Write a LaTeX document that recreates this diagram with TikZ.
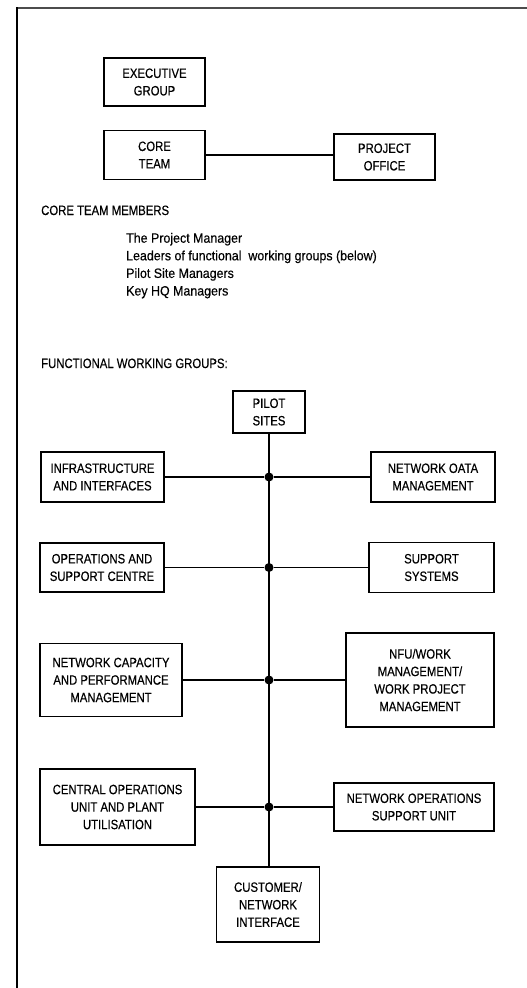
\documentclass[tikz,border=0pt]{standalone}
\usepackage{fontspec}
\setmainfont{Liberation Sans}[FakeStretch=0.84,FakeBold=0.4]
\newfontfamily\listfont{Liberation Sans}[FakeStretch=0.92,FakeBold=0.4]
\begin{document}
\begin{tikzpicture}[x=1pt,y=-1pt,
  boxstyle/.style={draw=black,line width=1.5pt,rectangle,inner sep=0pt,align=center,
     font=\fontsize{13.5}{17.5}\selectfont},
  linkstyle/.style={draw=black,line width=1.4pt},
  txtstyle/.style={anchor=base west,inner sep=0pt,font=\fontsize{13.5}{15}\selectfont},
  liststyle/.style={anchor=base west,inner sep=0pt,font=\listfont\fontsize{13.5}{15}\selectfont},
  dotstyle/.style={circle,fill=black,inner sep=0pt,minimum size=9pt}]
\useasboundingbox (0,0) rectangle (527,988);
% frame
\draw[line width=1.3pt,black!70] (16,8) -- (527,8);
\draw[line width=2pt,black] (16.5,7) -- (16.5,988);
% top boxes
\node[boxstyle,minimum width=101pt,minimum height=48pt] (exec) at (154.5,82) {EXECUTIVE\\GROUP};
\node[boxstyle,minimum width=101pt,minimum height=49pt] (core) at (154.5,155) {CORE\\TEAM};
\node[boxstyle,minimum width=101pt,minimum height=46pt] (po) at (384.5,157) {PROJECT\\OFFICE};
\draw[linkstyle] (core.east) -- (core.east -| po.west);
% texts
\node[txtstyle] (ctm) at (41,215) {CORE TEAM MEMBERS};
\node[liststyle] (l1) at (126,242.7) {The Project Manager};
\node[liststyle] (l2) at (126,260.3) {Leaders of functional\ \ working groups (below)};
\node[liststyle] (l3) at (126,277.9) {Pilot Site Managers};
\node[liststyle] (l4) at (126,295.5) {Key HQ Managers};
\node[txtstyle] (fwg) at (41,368) {FUNCTIONAL WORKING GROUPS:};
% functional groups
\node[boxstyle,minimum width=72pt,minimum height=42pt] (pilot) at (269,412) {PILOT\\SITES};
\node[boxstyle,minimum width=123pt,minimum height=50pt] (infra) at (102.5,477) {INFRASTRUCTURE\\AND INTERFACES};
\node[boxstyle,minimum width=124pt,minimum height=50pt] (ndm) at (433,477) {NETWORK OATA\\MANAGEMENT};
\node[boxstyle,minimum width=124pt,minimum height=49pt] (ops) at (102,567.5) {OPERATIONS AND\\SUPPORT CENTRE};
\node[boxstyle,minimum width=125pt,minimum height=50pt] (sup) at (431.5,567.5) {SUPPORT\\SYSTEMS};
\node[boxstyle,minimum width=142pt,minimum height=73pt] (ncap) at (111,680) {NETWORK CAPACITY\\AND PERFORMANCE\\MANAGEMENT};
\node[boxstyle,minimum width=148pt,minimum height=94pt] (nfu) at (420,680) {NFU/WORK\\MANAGEMENT/\\WORK PROJECT\\MANAGEMENT};
\node[boxstyle,minimum width=155pt,minimum height=76pt] (cou) at (117.5,807) {CENTRAL OPERATIONS\\UNIT AND PLANT\\UTILISATION};
\node[boxstyle,minimum width=160pt,minimum height=48pt] (nosu) at (414,807) {NETWORK OPERATIONS\\SUPPORT UNIT};
\node[boxstyle,minimum width=103pt,minimum height=75pt] (cust) at (268,904.5) {CUSTOMER/\\NETWORK\\INTERFACE};
% spine
\draw[linkstyle] (pilot.south) -- (pilot.south |- cust.north);
% junctions
\node[dotstyle] (j1) at (269,477) {};
\node[dotstyle] (j2) at (269,567.5) {};
\node[dotstyle] (j3) at (269,680) {};
\node[dotstyle] (j4) at (269,807) {};
\draw[linkstyle] (infra.east) -- (j1) -- (ndm.west);
\draw[linkstyle] (ops.east) -- (j2) -- (sup.west);
\draw[linkstyle] (ncap.east) -- (j3) -- (nfu.west);
\draw[linkstyle] (cou.east) -- (j4) -- (nosu.west);
\end{tikzpicture}
\end{document}
